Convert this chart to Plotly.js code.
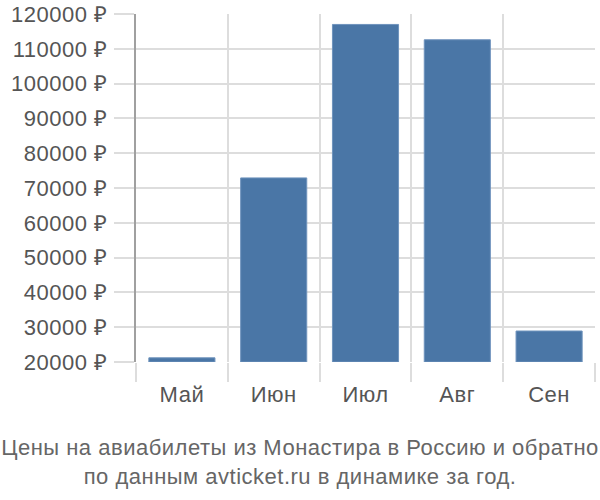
<!DOCTYPE html>
<html>
<head>
<meta charset="utf-8">
<script src="https://cdn.plot.ly/plotly-3.0.1.min.js"></script>
<style>
  html, body { margin: 0; padding: 0; background: #fff; }
  #chart { width: 600px; height: 500px; }
  /* the reference text is a little wider than Liberation Sans */
  #chart text { letter-spacing: 0.5px; }
</style>
</head>
<body>
<div id="chart"></div>
<script>
// Месяцы и цены (руб.)
const months = ['Май', 'Июн', 'Июл', 'Авг', 'Сен'];
const prices = [21200, 72900, 117000, 112600, 28900];
const yTicks = [20000, 30000, 40000, 50000, 60000, 70000, 80000, 90000, 100000, 110000, 120000];
const baseline = 20000;

const trace = {
    type: 'bar',
    x: months,
    // bars grow from the 20000 baseline, so y is the height above it
    y: prices.map(v => v - baseline),
    base: baseline,
    marker: { color: '#4a76a6', line: { color: '#6f93bd', width: 1 } },
    hoverinfo: 'none'
};

const layout = {
    width: 600,
    height: 500,
    paper_bgcolor: '#fff',
    plot_bgcolor: '#fff',
    font: { family: 'Liberation Sans, Arial, sans-serif', color: '#555' },
    margin: { l: 136, r: 5, t: 14, b: 138 },
    bargap: 0.28,
    showlegend: false,
    xaxis: {
        type: 'category',
        tickson: 'boundaries',
        ticks: 'outside',
        ticklen: 19,
        tickcolor: '#dddddd',
        tickwidth: 2,
        showgrid: true,
        gridcolor: '#dddddd',
        gridwidth: 2,
        tickfont: { size: 22, color: '#555' },
        ticklabelstandoff: 17,
        showline: false,
        zeroline: false
    },
    yaxis: {
        range: [20000, 120000],
        tickvals: yTicks,
        ticktext: yTicks.map(v => v + ' ₽'),
        ticks: 'outside',
        ticklen: 20,
        tickcolor: '#dddddd',
        tickwidth: 2,
        gridcolor: '#dddddd',
        gridwidth: 2,
        tickfont: { size: 22, color: '#555' },
        showline: true,
        linecolor: '#a0a0a0',
        linewidth: 2,
        zeroline: false,
        ticklabelstandoff: 2
    },
    title: {
        text: 'Цены на авиабилеты из Монастира в Россию и обратно<br>по данным avticket.ru в динамике за год.',
        font: { size: 22, color: '#666' },
        xref: 'container', x: 0.5, xanchor: 'center',
        yref: 'container', y: 0.09, yanchor: 'middle'
    }
};

Plotly.newPlot('chart', [trace], layout, { displayModeBar: false, staticPlot: true });
</script>
</body>
</html>
